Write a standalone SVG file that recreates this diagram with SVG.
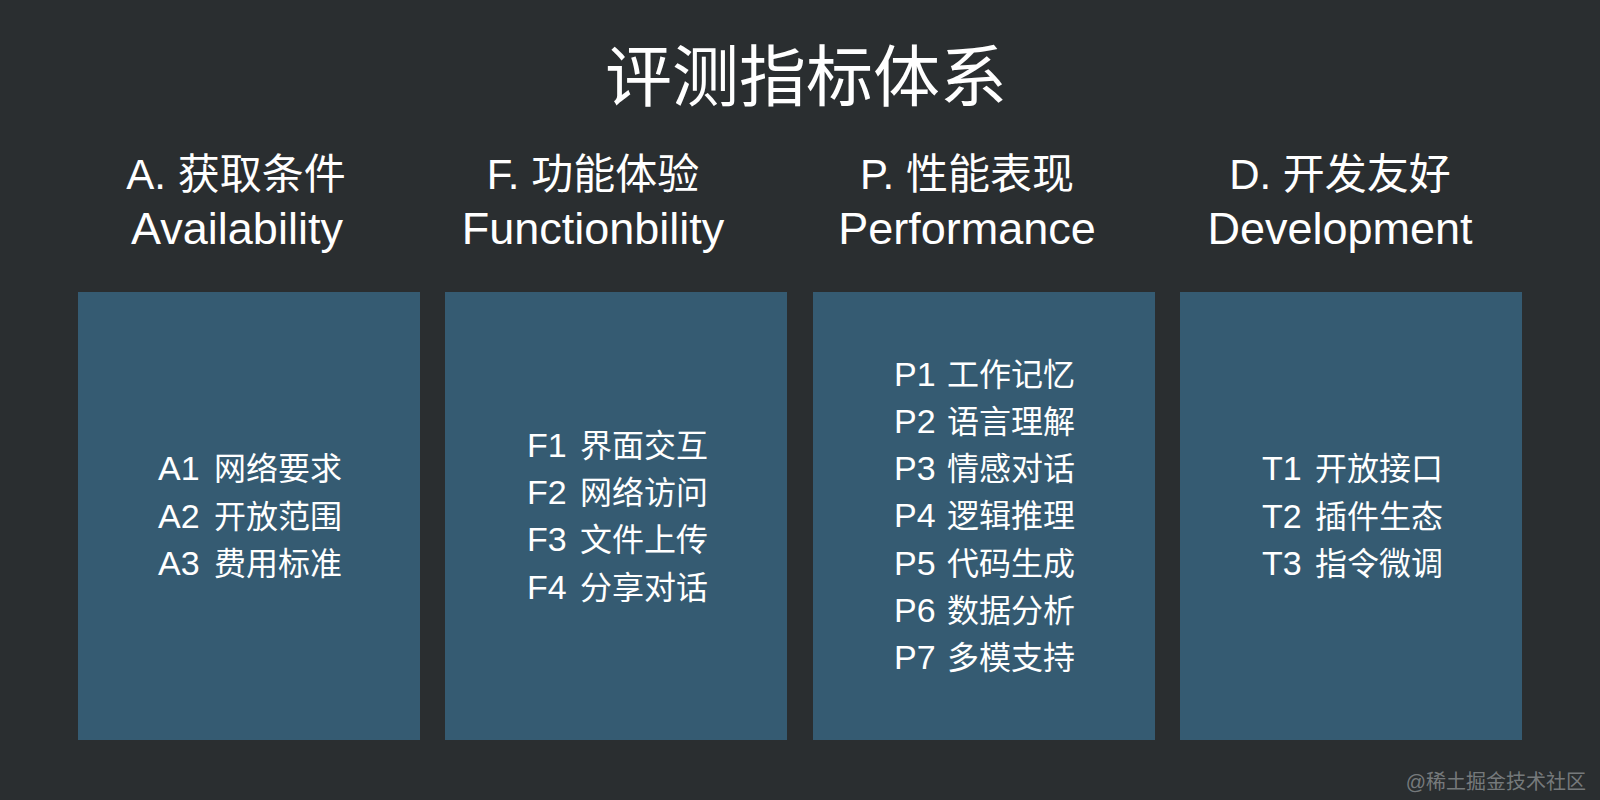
<svg xmlns="http://www.w3.org/2000/svg" width="1600" height="800" viewBox="0 0 1600 800">
  <style>
    text { font-family: "Liberation Sans", "Noto Sans CJK SC", sans-serif; fill: #ffffff; }
    .title { font-size: 67px; text-anchor: middle; }
    .hcn { font-size: 42px; text-anchor: middle; }
    .hen { font-size: 45px; text-anchor: middle; }
    .item { font-size: 32px; }
    .code { font-size: 34px; }
    .box { fill: #355b72; }
    .wm { font-size: 20px; fill: #8a8e90; fill-opacity: 0.8; }
  </style>
  <rect x="0" y="0" width="1600" height="800" fill="#2a2e30"/>
  <g id="title">
    <text class="title" x="806" y="101">评测指标体系</text>
  </g>
  <g id="col-A">
    <text class="hcn" x="236" y="189">A. 获取条件</text>
    <text class="hen" x="237" y="244">Availability</text>
    <rect class="box" x="78" y="292" width="342" height="448"/>
    <text class="item" y="480"><tspan class="code" x="158">A1</tspan><tspan x="214">网络要求</tspan></text>
    <text class="item" y="527.5"><tspan class="code" x="158">A2</tspan><tspan x="214">开放范围</tspan></text>
    <text class="item" y="575"><tspan class="code" x="158">A3</tspan><tspan x="214">费用标准</tspan></text>
  </g>
  <g id="col-F">
    <text class="hcn" x="593" y="189">F. 功能体验</text>
    <text class="hen" x="593" y="244">Functionbility</text>
    <rect class="box" x="445" y="292" width="342" height="448"/>
    <text class="item" y="456.5"><tspan class="code" x="527">F1</tspan><tspan x="580">界面交互</tspan></text>
    <text class="item" y="504"><tspan class="code" x="527">F2</tspan><tspan x="580">网络访问</tspan></text>
    <text class="item" y="551"><tspan class="code" x="527">F3</tspan><tspan x="580">文件上传</tspan></text>
    <text class="item" y="598.5"><tspan class="code" x="527">F4</tspan><tspan x="580">分享对话</tspan></text>
  </g>
  <g id="col-P">
    <text class="hcn" x="967" y="189">P. 性能表现</text>
    <text class="hen" x="967" y="244">Performance</text>
    <rect class="box" x="813" y="292" width="342" height="448"/>
    <text class="item" y="385.5"><tspan class="code" x="894">P1</tspan><tspan x="947">工作记忆</tspan></text>
    <text class="item" y="432.8"><tspan class="code" x="894">P2</tspan><tspan x="947">语言理解</tspan></text>
    <text class="item" y="480.1"><tspan class="code" x="894">P3</tspan><tspan x="947">情感对话</tspan></text>
    <text class="item" y="527.4"><tspan class="code" x="894">P4</tspan><tspan x="947">逻辑推理</tspan></text>
    <text class="item" y="574.7"><tspan class="code" x="894">P5</tspan><tspan x="947">代码生成</tspan></text>
    <text class="item" y="622"><tspan class="code" x="894">P6</tspan><tspan x="947">数据分析</tspan></text>
    <text class="item" y="669.3"><tspan class="code" x="894">P7</tspan><tspan x="947">多模支持</tspan></text>
  </g>
  <g id="col-D">
    <text class="hcn" x="1340" y="189">D. 开发友好</text>
    <text class="hen" x="1340" y="244">Development</text>
    <rect class="box" x="1180" y="292" width="342" height="448"/>
    <text class="item" y="480"><tspan class="code" x="1262">T1</tspan><tspan x="1315">开放接口</tspan></text>
    <text class="item" y="527.5"><tspan class="code" x="1262">T2</tspan><tspan x="1315">插件生态</tspan></text>
    <text class="item" y="575"><tspan class="code" x="1262">T3</tspan><tspan x="1315">指令微调</tspan></text>
  </g>
  <g id="connectors"></g>
  <g id="watermark">
    <text class="wm" x="1586" y="789" text-anchor="end">@稀土掘金技术社区</text>
  </g>
</svg>
